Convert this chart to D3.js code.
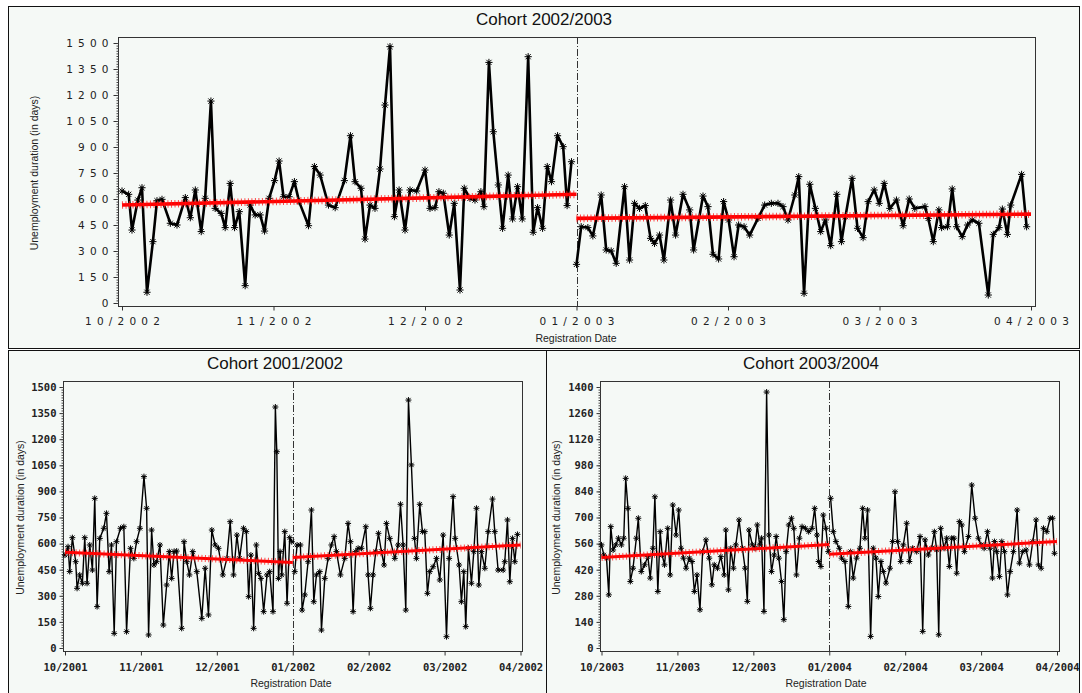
<!DOCTYPE html>
<html>
<head>
<meta charset="utf-8">
<script src="https://cdn.jsdelivr.net/npm/d3@7"></script>
<style>
  body { margin: 0; background: #ffffff; }
  svg text { font-family: "Liberation Sans", Arial, sans-serif; }
</style>
</head>
<body>
<script>
// ---------------- data (x = month index from start of cohort window, y = days) ----------------

var ticks_0203 = ["10/2002", "11/2002", "12/2002", "01/2003", "02/2003", "03/2003", "04/2003"];
var ticks_0102 = ["10/2001", "11/2001", "12/2001", "01/2002", "02/2002", "03/2002", "04/2002"];
var ticks_0304 = ["10/2003", "11/2003", "12/2003", "01/2004", "02/2004", "03/2004", "04/2004"];

// cohort 2002/2003, before new year
var x_0203_a = [0.000,0.044,0.066,0.105,0.132,0.165,0.204,0.231,0.264,0.319,0.363,0.418,0.451,0.484,0.523,0.549,0.587,0.615,0.655,0.681,
  0.714,0.743,0.774,0.813,0.846,0.879,0.912,0.941,0.971,1.007,1.037,1.066,1.103,1.138,1.169,1.231,1.270,1.308,1.363,1.407,
  1.468,1.508,1.538,1.578,1.604,1.637,1.670,1.703,1.736,1.769,1.798,1.829,1.868,1.901,1.945,2.000,2.033,2.066,2.092,2.121,
  2.160,2.193,2.231,2.259,2.297,2.330,2.369,2.389,2.422,2.451,2.484,2.512,2.549,2.578,2.611,2.642,2.681,2.714,2.743,2.776,
  2.807,2.835,2.875,2.912,2.938,2.967];
var y_0203_a = [646,627,421,594,665,62,354,590,598,460,450,608,492,652,412,604,1165,546,517,435,
  690,435,527,100,565,508,508,415,604,706,819,613,613,700,585,446,787,738,565,550,
  706,965,700,662,369,565,546,773,1142,1479,498,652,421,652,646,767,546,550,642,633,
  392,575,75,662,604,594,642,556,1388,988,681,431,738,485,671,485,1421,408,550,431,
  787,700,965,902,562,815];
// cohort 2002/2003, after new year
var x_0203_b = [3.000,3.031,3.075,3.108,3.163,3.196,3.229,3.262,3.317,3.350,3.383,3.416,3.454,3.489,3.515,3.548,3.577,3.621,3.654,3.703,
  3.747,3.773,3.835,3.868,3.901,3.938,3.971,4.004,4.040,4.070,4.106,4.143,4.198,4.242,4.286,4.330,4.363,4.396,4.441,4.467,
  4.502,4.540,4.577,4.612,4.643,4.678,4.718,4.749,4.775,4.819,4.855,4.892,4.925,4.965,4.998,5.031,5.068,5.112,5.156,5.196,
  5.233,5.300,5.322,5.355,5.392,5.410,5.449,5.480,5.509,5.546,5.581,5.612,5.656,5.718,5.751,5.789,5.811,5.844,5.866,5.938,5.971];
var y_0203_b = [223,440,435,387,623,306,300,229,671,248,575,546,562,373,344,392,248,594,392,627,
  537,306,617,556,281,254,585,479,267,450,440,392,488,565,575,575,556,479,623,729,
  56,685,546,412,479,331,627,354,498,719,431,377,585,652,575,690,546,594,446,600,
  546,556,488,354,537,435,440,658,440,383,450,479,460,46,396,435,542,396,565,742,440];
var trend_0203_x = [[0, 3], [3, 6]];
var trend_0203_y = [[565, 627], [488, 513]];

// cohort 2001/2002
var x_0102_a = [0.000,0.040,0.062,0.097,0.141,0.159,0.194,0.229,0.260,0.291,0.326,0.361,0.392,0.423,0.458,0.511,0.546,0.581,0.612,0.648,
  0.678,0.731,0.775,0.811,0.863,0.907,0.943,0.987,1.040,1.075,1.101,1.141,1.172,1.207,1.251,1.295,1.339,1.374,1.405,1.436,
  1.471,1.537,1.568,1.604,1.639,1.683,1.736,1.802,1.846,1.890,1.934,1.978,2.022,2.079,2.132,2.176,2.220,2.264,2.300,2.352,
  2.388,2.419,2.449,2.485,2.520,2.551,2.581,2.617,2.661,2.696,2.740,2.771,2.790,2.812,2.833,2.855,2.895,2.925,2.960,2.987];
var y_0102_a = [534,582,440,634,496,343,420,372,634,372,592,448,860,238,630,688,774,439,592,84,
  611,688,697,94,573,515,611,688,985,803,75,678,477,496,592,132,362,554,400,554,
  557,113,611,496,420,554,439,170,458,190,678,592,573,420,515,726,420,649,515,688,
  669,295,534,113,592,429,400,209,420,439,209,1385,1128,400,554,420,669,257,634,611];
var x_0102_b = [3.026,3.057,3.101,3.123,3.158,3.202,3.246,3.277,3.312,3.356,3.378,3.422,3.466,3.509,3.545,3.575,3.628,3.685,3.729,3.760,
  3.795,3.830,3.861,3.905,3.962,3.993,4.023,4.058,4.094,4.129,4.168,4.203,4.234,4.278,4.344,4.388,4.419,4.454,4.489,4.524,
  4.563,4.603,4.629,4.673,4.708,4.739,4.774,4.805,4.849,4.893,4.937,4.981,5.025,5.060,5.112,5.139,5.191,5.222,5.253,5.279,
  5.314,5.354,5.385,5.420,5.451,5.486,5.530,5.574,5.631,5.661,5.705,5.771,5.793,5.828,5.859,5.894,5.925,5.960];
var y_0102_b = [439,592,592,218,305,496,793,266,420,439,103,400,515,592,640,554,420,515,716,611,
  209,554,573,573,697,420,228,420,554,659,554,477,716,630,515,592,826,592,218,1425,
  1052,630,515,826,669,669,314,439,467,515,391,649,65,515,870,630,477,266,439,123,
  573,372,554,803,362,554,458,669,856,669,448,448,496,736,381,630,496,653];
var trend_0102_x = [[0, 3], [3, 6]];
var trend_0102_y = [[550, 492], [520, 592]];

// cohort 2003/2004
var x_0304_a = [0.000,0.031,0.066,0.096,0.122,0.153,0.188,0.223,0.262,0.293,0.319,0.349,0.380,0.415,0.459,0.485,0.524,0.568,0.611,0.642,
  0.677,0.703,0.742,0.773,0.799,0.830,0.873,0.904,0.939,0.983,1.017,1.048,1.079,1.114,1.157,1.192,1.223,1.258,1.297,1.332,
  1.376,1.419,1.454,1.485,1.528,1.572,1.616,1.638,1.672,1.703,1.738,1.769,1.812,1.856,1.891,1.921,1.943,1.987,2.022,2.052,
  2.083,2.109,2.140,2.175,2.205,2.240,2.275,2.301,2.336,2.371,2.402,2.432,2.467,2.502,2.533,2.568,2.607,2.642,2.686,2.729,
  2.773,2.808,2.838,2.860,2.890,2.921,2.956,2.987];
var y_0304_a = [553,499,482,285,651,526,553,589,553,589,910,749,357,428,589,696,410,446,490,375,
  535,811,303,624,499,446,642,392,767,606,740,535,482,428,482,464,303,392,205,517,
  580,482,339,446,428,490,392,633,312,535,428,553,687,535,428,250,633,553,535,660,
  553,589,196,1373,606,410,499,598,482,357,152,517,660,696,642,392,589,651,642,624,
  642,749,606,464,437,713,642,517];
var x_0304_b = [3.018,3.053,3.088,3.132,3.163,3.207,3.251,3.281,3.316,3.360,3.404,3.440,3.470,3.505,3.545,3.580,3.615,3.646,3.681,3.712,
  3.747,3.800,3.835,3.866,3.901,3.941,3.976,4.020,4.055,4.099,4.152,4.196,4.231,4.262,4.305,4.349,4.385,4.415,4.442,4.468,
  4.512,4.547,4.582,4.613,4.644,4.679,4.714,4.745,4.780,4.833,4.877,4.921,4.965,5.000,5.040,5.084,5.119,5.149,5.176,5.207,
  5.242,5.273,5.308,5.347,5.382,5.426,5.475,5.505,5.549,5.593,5.637,5.681,5.725,5.756,5.791,5.822,5.866,5.910,5.941,5.967];
var y_0304_b = [803,624,571,535,482,464,223,517,375,482,535,749,589,740,62,535,482,276,464,410,
  348,428,571,838,571,464,553,669,464,535,517,598,89,580,499,535,624,526,71,642,
  535,589,437,589,589,401,678,660,517,598,874,696,589,553,535,624,535,375,571,517,
  383,571,517,285,410,517,740,455,517,526,446,571,687,446,428,642,624,696,696,508];
var trend_0304_x = [[0, 3], [3, 6]];
var trend_0304_y = [[485, 555], [503, 571]];

// ---------------- layout ----------------
var W = 1082, H = 693;
var svg = d3.select("body").append("svg").attr("width", W).attr("height", H);

var panels = [
  { title: "Cohort 2002/2003", box: [8, 6, 1079, 348], frame: [118, 37, 1035, 306],
    xr: [122, 1031], yr: [303, 43], ymax: 1500, ystep: 150, minor: 15, ticks: ticks_0203,
    wide: true, titleX: 544, titleY: 25, ylabX: 38, xlabX: 576, xlabY: 342,
    series: [[x_0203_a, y_0203_a], [x_0203_b, y_0203_b]], tx: trend_0203_x, ty: trend_0203_y,
    lw: 2.6, ms: 3.6, tw: 3.6 },
  { title: "Cohort 2001/2002", box: [8, 350, 546, 693], frame: [63, 381, 522, 651],
    xr: [65, 520.5], yr: [648, 387], ymax: 1500, ystep: 150, minor: 15, ticks: ticks_0102,
    wide: false, titleX: 275, titleY: 369, ylabX: 24, xlabX: 291, xlabY: 687,
    series: [[x_0102_a, y_0102_a], [x_0102_b, y_0102_b]], tx: trend_0102_x, ty: trend_0102_y,
    lw: 1.4, ms: 3, tw: 3 },
  { title: "Cohort 2003/2004", box: [546, 350, 1079, 693], frame: [600, 381, 1059, 651],
    xr: [601.5, 1057], yr: [648, 387], ymax: 1400, ystep: 140, minor: 14, ticks: ticks_0304,
    wide: false, titleX: 811, titleY: 369, ylabX: 560, xlabX: 826, xlabY: 687,
    series: [[x_0304_a, y_0304_a], [x_0304_b, y_0304_b]], tx: trend_0304_x, ty: trend_0304_y,
    lw: 1.4, ms: 3, tw: 3 }
];

function asterisk(r) {
  var d = r * 0.72;
  return "M" + (-r) + ",0H" + r + "M0," + (-r) + "V" + r +
         "M" + (-d) + "," + (-d) + "L" + d + "," + d +
         "M" + (-d) + "," + d + "L" + d + "," + (-d);
}

panels.forEach(function(p) {
  var g = svg.append("g");
  var b = p.box, f = p.frame;

  g.append("rect")
    .attr("x", b[0] + 0.5).attr("y", b[1] + 0.5)
    .attr("width", b[2] - b[0]).attr("height", b[3] - b[1])
    .attr("fill", "#f5f9f6").attr("stroke", "#111").attr("stroke-width", 1);

  var x = d3.scaleLinear().domain([0, 6]).range(p.xr);
  var y = d3.scaleLinear().domain([0, p.ymax]).range(p.yr);

  // plot frame
  g.append("rect")
    .attr("x", f[0] + 0.5).attr("y", f[1] + 0.5)
    .attr("width", f[2] - f[0]).attr("height", f[3] - f[1])
    .attr("fill", "none").attr("stroke", "#333").attr("stroke-width", 1);

  // title
  g.append("text").attr("x", p.titleX).attr("y", p.titleY)
    .attr("text-anchor", "middle").style("font-size", "17px").attr("fill", "#111")
    .text(p.title);

  // y axis (left, with minor ticks)
  var yAxis = d3.axisLeft(y).tickValues(d3.range(0, p.ymax + 1, p.ystep))
    .tickFormat(d3.format("d"))
    .tickSize(p.wide ? 5 : 4).tickPadding(p.wide ? 5 : 3);
  var ya = g.append("g").attr("transform", "translate(" + (f[0] + 0.5) + ",0)").call(yAxis);
  ya.select(".domain").remove();
  ya.selectAll("line").attr("stroke", "#333");
  var minorAxis = d3.axisLeft(y).tickValues(d3.range(0, p.ymax + 1, p.minor)).tickSize(2).tickFormat("");
  var ym = g.append("g").attr("transform", "translate(" + (f[0] + 0.5) + ",0)").call(minorAxis);
  ym.select(".domain").remove();
  ym.selectAll("line").attr("stroke", "#444");

  // x axis
  var xAxis = d3.axisBottom(x).tickValues(d3.range(0, 7)).tickSize(4).tickPadding(p.wide ? 7 : 8)
    .tickFormat(function(d) { return p.ticks[d]; });
  var xa = g.append("g").attr("transform", "translate(0," + (f[3] + 0.5) + ")").call(xAxis);
  xa.select(".domain").remove();
  xa.selectAll("line").attr("stroke", "#333");

  [ya, xa].forEach(function(a) {
    a.selectAll("text").attr("fill", "#222");
    if (p.wide) {
      a.selectAll("text").style("font-family", "'DejaVu Sans', sans-serif")
        .style("font-size", "10.5px").style("letter-spacing", "5.2px");
    } else {
      a.selectAll("text").style("font-family", "'DejaVu Sans Mono', monospace")
        .style("font-size", "10.5px").style("font-weight", "bold");
    }
  });
  if (p.wide) {
    ya.selectAll("text").attr("dx", "5.2px");
    xa.selectAll("text").attr("dx", "2.6px");
  }

  // axis titles
  g.append("text")
    .attr("transform", "translate(" + p.ylabX + "," + ((p.yr[0] + p.yr[1]) / 2) + ") rotate(-90)")
    .attr("text-anchor", "middle").style("font-size", "10.5px").attr("fill", "#222")
    .text("Unemployment duration (in days)");
  g.append("text").attr("x", p.xlabX).attr("y", p.xlabY)
    .attr("text-anchor", "middle").style("font-size", "10.5px").attr("fill", "#222")
    .text("Registration Date");

  // turn-of-year reference line
  g.append("line")
    .attr("x1", Math.round(x(3)) + 0.5).attr("x2", Math.round(x(3)) + 0.5)
    .attr("y1", f[1]).attr("y2", f[3])
    .attr("stroke", "#333").attr("stroke-width", 1).attr("stroke-dasharray", "7,2,1,2");

  // data lines + asterisks
  var line = d3.line().x(function(d) { return x(d[0]); }).y(function(d) { return y(d[1]); });
  p.series.forEach(function(s) {
    var pts = s[0].map(function(v, i) { return [v, s[1][i]]; });
    g.append("path").datum(pts).attr("d", line)
      .attr("fill", "none").attr("stroke", "#000").attr("stroke-width", p.lw)
      .attr("stroke-linejoin", "round");
    g.selectAll(null).data(pts).enter().append("path")
      .attr("d", asterisk(p.ms))
      .attr("transform", function(d) { return "translate(" + x(d[0]) + "," + y(d[1]) + ")"; })
      .attr("stroke", "#000").attr("stroke-width", 1).attr("fill", "none");
  });

  // trend lines (red, with dense star markers)
  p.tx.forEach(function(tx, i) {
    var pts = tx.map(function(v, j) { return [v, p.ty[i][j]]; });
    g.append("path").datum(pts).attr("d", line)
      .attr("fill", "none").attr("stroke", "#ff0000").attr("stroke-width", p.tw);
    g.append("path").datum(pts).attr("d", line)
      .attr("fill", "none").attr("stroke", "#ff1010").attr("stroke-width", p.tw + 4)
      .attr("stroke-dasharray", "1,2.5").attr("opacity", 0.75);
  });
});
</script>
</body>
</html>
